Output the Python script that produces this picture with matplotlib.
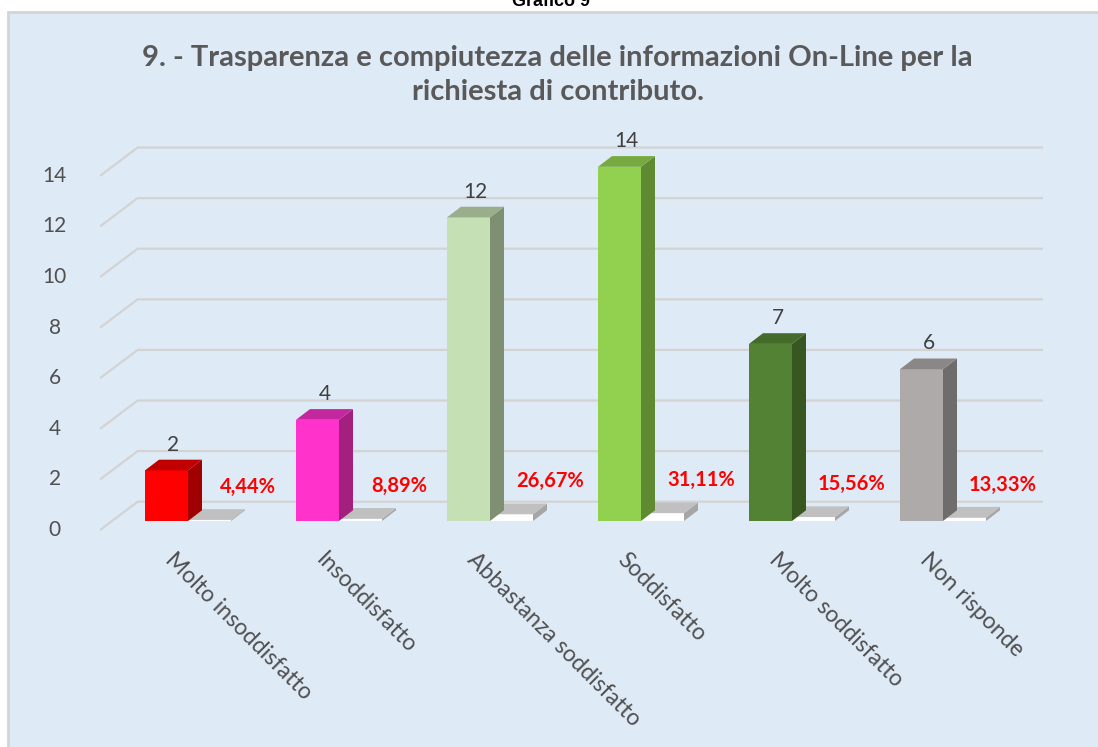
import matplotlib
matplotlib.use("Agg")
import matplotlib.pyplot as plt
from matplotlib.patches import Rectangle, Polygon

plt.rcParams['font.family'] = ['Lato', 'DejaVu Sans']

# chart values
categorie = ["Molto insoddisfatto", "Insoddisfatto", "Abbastanza soddisfatto",
             "Soddisfatto", "Molto soddisfatto", "Non risponde"]
risposte = [2, 4, 12, 14, 7, 6]
percentuali = [0.0444, 0.0889, 0.2667, 0.3111, 0.1556, 0.1333]
etichette_perc = ["4,44%", "8,89%", "26,67%", "31,11%", "15,56%", "13,33%"]
yticks = [0, 2, 4, 6, 8, 10, 12, 14]

titolo = "9. - Trasparenza e compiutezza delle informazioni On-Line per la\nrichiesta di contributo."

# colours: front, side, top
colori = [("#FF0000", "#A00000", "#C00000"),
          ("#FF33CC", "#A3207F", "#C4289F"),
          ("#C5E0B4", "#7F8F72", "#9AAE8C"),
          ("#92D050", "#5F8A32", "#76AA3E"),
          ("#548235", "#38561F", "#446B2A"),
          ("#AEAAAA", "#6F6C6C", "#8B8787")]
col_perc = ("#FFFFFF", "#A6A6A6", "#C0C0C0")

W, H = 1098, 747
fig = plt.figure(figsize=(W / 100, H / 100), dpi=100)

# background panel
fig.patches.append(Rectangle((7.5 / W, -0.1), 1.2, 1.1 - 11.5 / H, transform=fig.transFigure,
                             facecolor="#DEEAF6", edgecolor="#D4D4D4", lw=2, zorder=-5))
fig.text(0.502, 1 - 6 / H, "Grafico 9", family="Liberation Sans", weight="bold",
         fontsize=13, ha="center", va="baseline", color="black")
fig.text(0.508, 1 - 75 / H, titolo, ha="center", va="center", fontsize=21,
         weight="bold", color="#595959", linespacing=1.38)

# axes spans the whole figure: one x unit per category, y in answers
X0, XS = 166.5, 151.0   # pixel of first bar centre, pixels per category
Y0, YS = 521.0, 25.3    # pixel row of zero, pixels per answer
ax = fig.add_axes([0, 0, 1, 1])
ax.set_xlim(-X0 / XS, (W - X0) / XS)
ax.set_ylim((Y0 - H) / YS, Y0 / YS)
ax.axis("off")
ax.patch.set_alpha(0)

bw = 43 / XS                 # bar width
ddx, ddy = 14 / XS, 10.7 / YS  # bar depth
wdx, wdy = 25.5 / XS, 19.3 / YS  # back wall offset
fdx, fdy = -12 / XS, -9 / YS     # floor front offset
x_end = (1043 - X0) / XS

# gridlines on the back wall and the left wall
for v in yticks:
    ax.plot([fdx - 0.36, wdx - 0.36, x_end], [v + fdy, v + wdy, v + wdy],
            color="#D3D3D3", lw=1.6, zorder=1, solid_capstyle="butt")
    ax.text(-0.74, v + fdy, str(v), ha="center", va="center", fontsize=15,
            color="#505050")


def bar3d(x, w, h, cols, z):
    front, side, top = cols
    ax.add_patch(Rectangle((x, 0), w, h, facecolor=front, edgecolor="none", zorder=z))
    ax.add_patch(Polygon([(x + w, 0), (x + w + ddx, ddy), (x + w + ddx, h + ddy), (x + w, h)],
                         facecolor=side, edgecolor="none", zorder=z))
    ax.add_patch(Polygon([(x, h), (x + ddx, h + ddy), (x + w + ddx, h + ddy), (x + w, h)],
                         facecolor=top, edgecolor="none", zorder=z))


for i, (cat, n, p, lab) in enumerate(zip(categorie, risposte, percentuali, etichette_perc)):
    bar3d(i - bw / 2, bw, n, colori[i], 3)
    bar3d(i + bw / 2, bw, p, col_perc, 2)
    ax.text(i + ddx / 2, n + ddy + 0.6, str(n), ha="center", va="center",
            fontsize=15, color="#404040")
    ax.text(i + 0.54, p + 1.3, lab, ha="center", va="center", fontsize=14.5,
            weight="bold", color="#FF0000")
    ax.text(i + 0.06, -1.12, cat, ha="left", va="top", rotation=-45,
            rotation_mode="anchor", fontsize=16.5, color="#505050")

fig.savefig("out.png", dpi=100)
